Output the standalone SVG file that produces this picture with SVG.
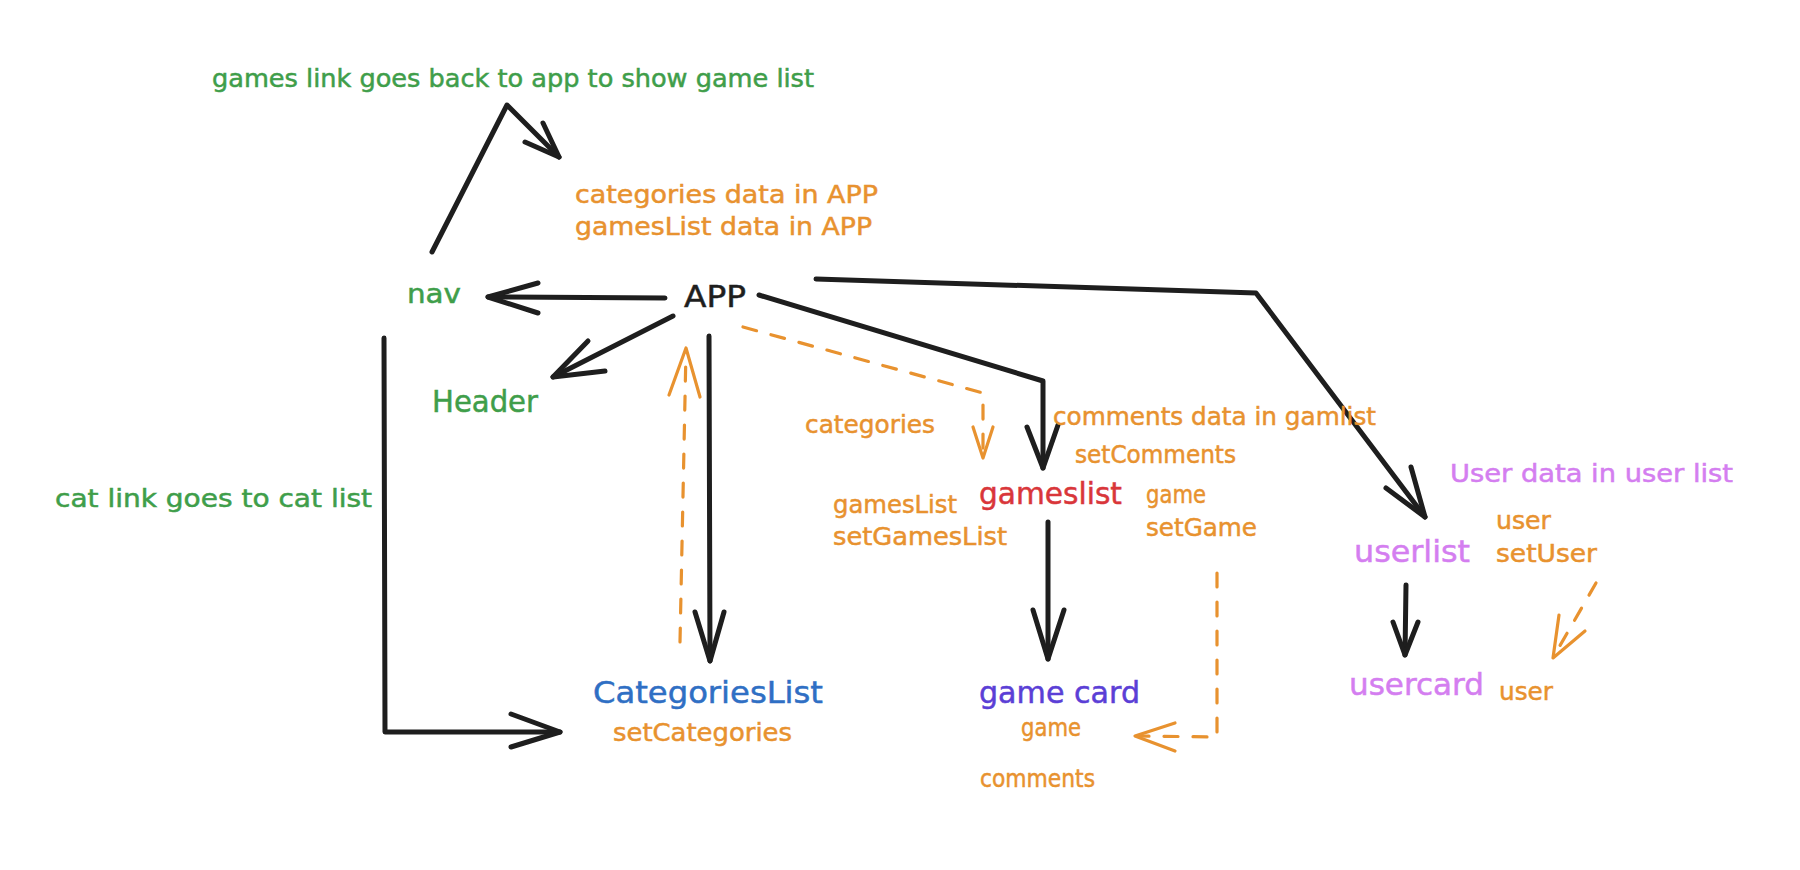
<svg xmlns="http://www.w3.org/2000/svg" width="1800" height="870" viewBox="0 0 1800 870">
<style>
text{font-family:"DejaVu Sans","Liberation Sans",sans-serif;stroke-width:0.5;}
.s{font-size:24px;}
.m{font-size:26px;}
.l{font-size:30px;}
.g{fill:#3f9e4a;stroke:#3f9e4a;}
.o{fill:#e8922f;stroke:#e8922f;}
.r{fill:#d9363a;stroke:#d9363a;}
.b{fill:#2f6fc4;stroke:#2f6fc4;}
.v{fill:#5b3fd6;stroke:#5b3fd6;}
.p{fill:#d47ef0;stroke:#d47ef0;}
.k{fill:#1e1e1e;stroke:#1e1e1e;}
.c{fill:none;stroke:#1e1e1e;stroke-width:5;stroke-linecap:round;stroke-linejoin:round;}
.d{fill:none;stroke:#e8922f;stroke-width:3.2;stroke-linecap:round;stroke-linejoin:round;stroke-dasharray:14 15;}
.h{fill:none;stroke:#e8922f;stroke-width:3.2;stroke-linecap:round;stroke-linejoin:round;}
</style>
<rect width="1800" height="870" fill="#ffffff"/>
<g id="connectors">
  <path class="c" d="M432,252 L507,105 L559,157"/>
  <path class="c" d="M543,123 L559,157 L525,142"/>
  <path class="c" d="M665,298 L488,297"/>
  <path class="c" d="M538,283 L488,297 L538,313"/>
  <path class="c" d="M673,316 L553,377"/>
  <path class="c" d="M588,341 L553,377 L605,371"/>
  <path class="c" d="M384,338 L385,732 L560,732"/>
  <path class="c" d="M511,714 L560,732 L511,747"/>
  <path class="c" d="M709,336 L710,661"/>
  <path class="c" d="M695,612 L710,661 L724,612"/>
  <path class="d" d="M680,642 L686,350"/>
  <path class="h" d="M669,395 L686,348 L700,397"/>
  <path class="d" d="M743,327 L983,393 L983,456"/>
  <path class="h" d="M973,427 L983,458 L993,427"/>
  <path class="c" d="M759,295 L1043,381 L1043,468"/>
  <path class="c" d="M1027,427 L1043,468 L1058,425"/>
  <path class="c" d="M816,279 L1256,293 L1425,517"/>
  <path class="c" d="M1411,467 L1425,517 L1386,488"/>
  <path class="c" d="M1048,522 L1048,659"/>
  <path class="c" d="M1033,610 L1048,659 L1064,610"/>
  <path class="d" d="M1217,573 L1217,737 L1137,736"/>
  <path class="h" d="M1175,723 L1135,736 L1175,751"/>
  <path class="c" d="M1406,585 L1405,655"/>
  <path class="c" d="M1393,622 L1405,655 L1418,622"/>
  <path class="d" d="M1596,583 L1554,656"/>
  <path class="h" d="M1559,615 L1553,658 L1585,631"/>
</g>
<g id="label-games-link"><text class="s g" x="212" y="87" textLength="602" lengthAdjust="spacingAndGlyphs">games link goes back to app to show game list</text></g>
<g id="label-app-data">
  <text class="s o" x="575" y="203" textLength="303" lengthAdjust="spacingAndGlyphs">categories data in APP</text>
  <text class="s o" x="575" y="235" textLength="297" lengthAdjust="spacingAndGlyphs">gamesList data in APP</text>
</g>
<g id="node-nav"><text class="m g" x="407" y="303" textLength="54" lengthAdjust="spacingAndGlyphs">nav</text></g>
<g id="node-app"><text class="l k" x="684" y="307" textLength="62" lengthAdjust="spacingAndGlyphs">APP</text></g>
<g id="node-header"><text class="l g" x="432" y="412" textLength="106" lengthAdjust="spacingAndGlyphs">Header</text></g>
<g id="label-cat-link"><text class="s g" x="55" y="507" textLength="317" lengthAdjust="spacingAndGlyphs">cat link goes to cat list</text></g>
<g id="label-categories"><text class="s o" x="805" y="433" textLength="130" lengthAdjust="spacingAndGlyphs">categories</text></g>
<g id="label-comments-data">
  <text class="s o" x="1053" y="425" textLength="323" lengthAdjust="spacingAndGlyphs">comments data in gamlist</text>
  <text class="s o" x="1075" y="463" textLength="161" lengthAdjust="spacingAndGlyphs">setComments</text>
</g>
<g id="node-gameslist">
  <text class="l r" x="979" y="504" textLength="143" lengthAdjust="spacingAndGlyphs">gameslist</text>
  <text class="s o" x="833" y="513" textLength="124" lengthAdjust="spacingAndGlyphs">gamesList</text>
  <text class="s o" x="833" y="545" textLength="174" lengthAdjust="spacingAndGlyphs">setGamesList</text>
  <text class="s o" x="1146" y="503" textLength="60" lengthAdjust="spacingAndGlyphs">game</text>
  <text class="s o" x="1146" y="536" textLength="111" lengthAdjust="spacingAndGlyphs">setGame</text>
</g>
<g id="node-categorieslist">
  <text class="l b" x="593" y="703" textLength="230" lengthAdjust="spacingAndGlyphs">CategoriesList</text>
  <text class="s o" x="613" y="741" textLength="179" lengthAdjust="spacingAndGlyphs">setCategories</text>
</g>
<g id="node-gamecard">
  <text class="l v" x="979" y="703" textLength="161" lengthAdjust="spacingAndGlyphs">game card</text>
  <text class="s o" x="1021" y="736" textLength="60" lengthAdjust="spacingAndGlyphs">game</text>
  <text class="s o" x="980" y="787" textLength="115" lengthAdjust="spacingAndGlyphs">comments</text>
</g>
<g id="label-user-data"><text class="s p" x="1450" y="482" textLength="283" lengthAdjust="spacingAndGlyphs">User data in user list</text></g>
<g id="node-userlist">
  <text class="l p" x="1354" y="562" textLength="116" lengthAdjust="spacingAndGlyphs">userlist</text>
  <text class="s o" x="1496" y="529" textLength="55" lengthAdjust="spacingAndGlyphs">user</text>
  <text class="s o" x="1496" y="562" textLength="101" lengthAdjust="spacingAndGlyphs">setUser</text>
</g>
<g id="node-usercard">
  <text class="l p" x="1349" y="695" textLength="135" lengthAdjust="spacingAndGlyphs">usercard</text>
  <text class="s o" x="1499" y="700" textLength="54" lengthAdjust="spacingAndGlyphs">user</text>
</g>
</svg>
